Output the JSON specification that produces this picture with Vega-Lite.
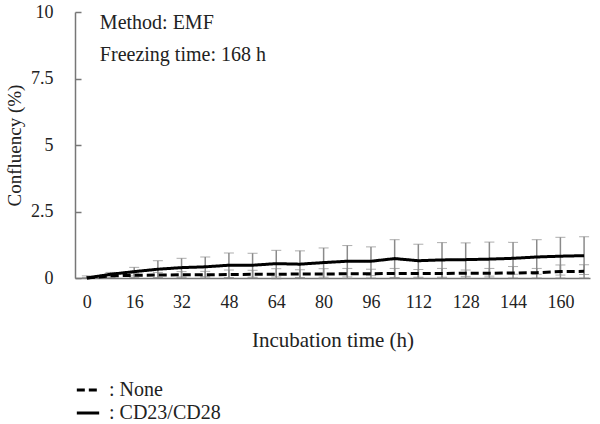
{
  "$schema": "https://vega.github.io/schema/vega-lite/v6.json",
  "autosize": "none",
  "width": 515,
  "height": 266,
  "padding": {"left": 75, "top": 12, "right": 10, "bottom": 146},
  "background": "white",
  "config": {
    "font": "Liberation Serif",
    "view": {"stroke": null},
    "axis": {
      "labelFont": "Liberation Serif",
      "titleFont": "Liberation Serif",
      "labelColor": "#222",
      "titleColor": "#222",
      "titleFontWeight": "normal",
      "grid": false,
      "domainColor": "#777",
      "domainWidth": 1.5,
      "tickColor": "#777",
      "tickWidth": 1.5
    }
  },
  "datasets": {
    "series": [
      {"t": 0, "group": "CD23/CD28", "mean": 0.0, "lo": 0.0, "hi": 0.08},
      {"t": 8, "group": "CD23/CD28", "mean": 0.14, "lo": 0.07, "hi": 0.21},
      {"t": 16, "group": "CD23/CD28", "mean": 0.24, "lo": 0.08, "hi": 0.40},
      {"t": 24, "group": "CD23/CD28", "mean": 0.33, "lo": 0.01, "hi": 0.65},
      {"t": 32, "group": "CD23/CD28", "mean": 0.39, "lo": 0.04, "hi": 0.74},
      {"t": 40, "group": "CD23/CD28", "mean": 0.42, "lo": 0.05, "hi": 0.79},
      {"t": 48, "group": "CD23/CD28", "mean": 0.48, "lo": 0.02, "hi": 0.94},
      {"t": 56, "group": "CD23/CD28", "mean": 0.48, "lo": 0.03, "hi": 0.93},
      {"t": 64, "group": "CD23/CD28", "mean": 0.54, "lo": 0.04, "hi": 1.04},
      {"t": 72, "group": "CD23/CD28", "mean": 0.52, "lo": 0.02, "hi": 1.02},
      {"t": 80, "group": "CD23/CD28", "mean": 0.58, "lo": 0.03, "hi": 1.13},
      {"t": 88, "group": "CD23/CD28", "mean": 0.63, "lo": 0.04, "hi": 1.22},
      {"t": 96, "group": "CD23/CD28", "mean": 0.63, "lo": 0.09, "hi": 1.17},
      {"t": 104, "group": "CD23/CD28", "mean": 0.73, "lo": 0.02, "hi": 1.44},
      {"t": 112, "group": "CD23/CD28", "mean": 0.65, "lo": 0.03, "hi": 1.27},
      {"t": 120, "group": "CD23/CD28", "mean": 0.68, "lo": 0.03, "hi": 1.33},
      {"t": 128, "group": "CD23/CD28", "mean": 0.69, "lo": 0.06, "hi": 1.32},
      {"t": 136, "group": "CD23/CD28", "mean": 0.71, "lo": 0.07, "hi": 1.35},
      {"t": 144, "group": "CD23/CD28", "mean": 0.74, "lo": 0.14, "hi": 1.34},
      {"t": 152, "group": "CD23/CD28", "mean": 0.79, "lo": 0.14, "hi": 1.44},
      {"t": 160, "group": "CD23/CD28", "mean": 0.82, "lo": 0.11, "hi": 1.53},
      {"t": 168, "group": "CD23/CD28", "mean": 0.84, "lo": 0.13, "hi": 1.55},
      {"t": 0, "group": "None", "mean": 0.0, "lo": 0.0, "hi": 0.0},
      {"t": 8, "group": "None", "mean": 0.08, "lo": 0.02, "hi": 0.14},
      {"t": 16, "group": "None", "mean": 0.10, "lo": 0.02, "hi": 0.18},
      {"t": 24, "group": "None", "mean": 0.11, "lo": 0.01, "hi": 0.21},
      {"t": 32, "group": "None", "mean": 0.12, "lo": 0.01, "hi": 0.24},
      {"t": 40, "group": "None", "mean": 0.12, "lo": 0.0, "hi": 0.25},
      {"t": 48, "group": "None", "mean": 0.13, "lo": 0.0, "hi": 0.30},
      {"t": 56, "group": "None", "mean": 0.14, "lo": 0.0, "hi": 0.29},
      {"t": 64, "group": "None", "mean": 0.14, "lo": -0.03, "hi": 0.35},
      {"t": 72, "group": "None", "mean": 0.15, "lo": 0.0, "hi": 0.31},
      {"t": 80, "group": "None", "mean": 0.15, "lo": -0.02, "hi": 0.35},
      {"t": 88, "group": "None", "mean": 0.16, "lo": -0.02, "hi": 0.36},
      {"t": 96, "group": "None", "mean": 0.16, "lo": 0.0, "hi": 0.33},
      {"t": 104, "group": "None", "mean": 0.17, "lo": 0.0, "hi": 0.36},
      {"t": 112, "group": "None", "mean": 0.17, "lo": 0.0, "hi": 0.32},
      {"t": 120, "group": "None", "mean": 0.17, "lo": 0.0, "hi": 0.36},
      {"t": 128, "group": "None", "mean": 0.18, "lo": 0.0, "hi": 0.30},
      {"t": 136, "group": "None", "mean": 0.18, "lo": 0.0, "hi": 0.36},
      {"t": 144, "group": "None", "mean": 0.19, "lo": 0.0, "hi": 0.43},
      {"t": 152, "group": "None", "mean": 0.20, "lo": 0.0, "hi": 0.36},
      {"t": 160, "group": "None", "mean": 0.24, "lo": 0.0, "hi": 0.49},
      {"t": 168, "group": "None", "mean": 0.25, "lo": 0.0, "hi": 0.50}
    ],
    "notes": [
      {"t": 4.4, "y": 9.6, "label": "Method: EMF"},
      {"t": 4.4, "y": 8.38, "label": "Freezing time: 168 h"}
    ]
  },
  "layer": [
    {
      "data": {"name": "series"},
      "mark": {
        "type": "errorbar",
        "ticks": {"size": 10, "color": "#8a8a8a", "strokeWidth": 1.5},
        "rule": {"color": "#8a8a8a", "strokeWidth": 1.5}
      },
      "encoding": {
        "x": {
          "field": "t",
          "type": "quantitative",
          "scale": {"domain": [-4, 170], "nice": false, "zero": false},
          "axis": {
            "values": [0, 16, 32, 48, 64, 80, 96, 112, 128, 144, 160],
            "ticks": false,
            "labelFontSize": 18,
            "labelPadding": 15,
            "title": "Incubation time (h)",
            "titleFontSize": 21,
            "titlePadding": 18
          }
        },
        "y": {
          "field": "lo",
          "type": "quantitative",
          "scale": {"domain": [0, 10], "nice": false},
          "axis": {
            "values": [0, 2.5, 5, 7.5, 10],
            "labelExpr": "'' + datum.value",
            "tickSize": -6,
            "labelPadding": 28,
            "labelFontSize": 18,
            "title": "Confluency (%)",
            "titleFontSize": 19,
            "titlePadding": 6
          }
        },
        "y2": {"field": "hi"}
      }
    },
    {
      "data": {"name": "series"},
      "mark": {"type": "line", "color": "black", "strokeWidth": 3},
      "encoding": {
        "x": {"field": "t", "type": "quantitative"},
        "y": {"field": "mean", "type": "quantitative"},
        "strokeDash": {
          "field": "group",
          "type": "nominal",
          "scale": {"domain": ["None", "CD23/CD28"], "range": [[8, 4], [1, 0]]},
          "legend": {
            "title": null,
            "orient": "none",
            "legendX": 0,
            "legendY": 365,
            "symbolType": "stroke",
            "symbolSize": 500,
            "symbolStrokeWidth": 3,
            "symbolStrokeColor": "black",
            "labelExpr": "': ' + datum.label",
            "labelFont": "Liberation Serif",
            "labelFontSize": 20,
            "labelColor": "#222",
            "labelOffset": 8,
            "rowPadding": -3
          }
        }
      }
    },
    {
      "data": {"name": "notes"},
      "mark": {"type": "text", "align": "left", "baseline": "middle", "fontSize": 20, "color": "#222", "font": "Liberation Serif"},
      "encoding": {
        "x": {"field": "t", "type": "quantitative"},
        "y": {"field": "y", "type": "quantitative"},
        "text": {"field": "label"}
      }
    }
  ]
}
